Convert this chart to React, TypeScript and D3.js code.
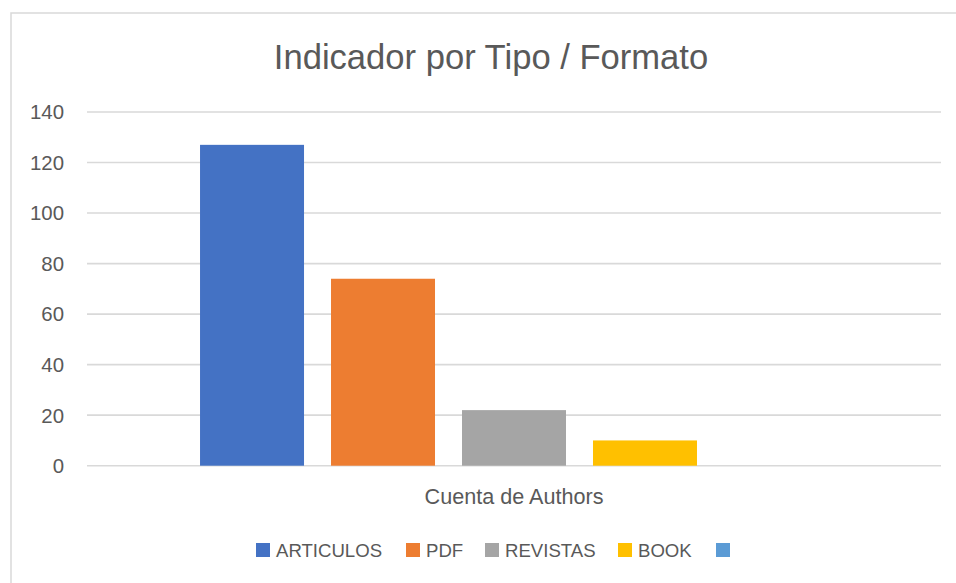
import React from "react";
import * as d3 from "d3";

const title = "Indicador por Tipo / Formato";
const categories = ["Cuenta de Authors"];
const seriesNames = ["ARTICULOS", "PDF", "REVISTAS", "BOOK", ""];
const seriesValues: (number | null)[] = [127, 74, 22, 10, null];
const seriesColors = ["#4472C4", "#ED7D31", "#A5A5A5", "#FFC000", "#5B9BD5"];
const yTicks = [0, 20, 40, 60, 80, 100, 120, 140];

const W = 956;
const H = 583;
const plotLeft = 87;
const plotRight = 941;
const plotTop = 112;
const plotBottom = 465.7;
const FONT = "'Liberation Sans', Arial, sans-serif";
const TEXT = "#595959";

export default function App() {
  const y = d3.scaleLinear().domain([0, 140]).range([plotBottom, plotTop]);
  const x0 = d3
    .scaleBand<string>()
    .domain(categories)
    .range([plotLeft, plotRight])
    .paddingInner(0)
    .paddingOuter(0.18);
  const x1 = d3
    .scaleBand<string>()
    .domain(seriesNames.map((s, i) => String(i)))
    .range([0, x0.bandwidth()])
    .paddingInner(27 / 131)
    .paddingOuter(0);

  // legend layout (left positions of each swatch)
  const legendX = [256, 406, 485, 618, 716];
  const legendY = 543;

  return (
    <svg
      width={W}
      height={H}
      style={{ position: "absolute", left: 0, top: 0, background: "#fff" }}
      fontFamily={FONT}
    >
      <rect x={0} y={0} width={W} height={H} fill="#fff" />
      {/* chart border */}
      <rect
        x={11}
        y={13}
        width={W + 20}
        height={H + 20}
        fill="none"
        stroke="#d9d9d9"
        strokeWidth={1.5}
      />
      <text
        x={491}
        y={68.5}
        textAnchor="middle"
        fontSize={34.6}
        fill={TEXT}
      >
        {title}
      </text>
      {/* gridlines */}
      {yTicks.map((t) => (
        <line
          key={t}
          x1={plotLeft}
          x2={plotRight}
          y1={y(t)}
          y2={y(t)}
          stroke="#d9d9d9"
          strokeWidth={1.6}
        />
      ))}
      {/* y labels */}
      {yTicks.map((t) => (
        <text
          key={"l" + t}
          x={64}
          y={y(t)}
          dy="0.36em"
          textAnchor="end"
          fontSize={20.4}
          fill={TEXT}
        >
          {t}
        </text>
      ))}
      {/* bars */}
      {categories.map((c) => (
        <g key={c} transform={`translate(${x0(c)},0)`}>
          {seriesValues.map((v, i) =>
            v == null ? null : (
              <rect
                key={i}
                x={x1(String(i))}
                y={y(v)}
                width={x1.bandwidth()}
                height={y(0) - y(v)}
                fill={seriesColors[i]}
              />
            )
          )}
        </g>
      ))}
      {/* category label */}
      {categories.map((c) => (
        <text
          key={"c" + c}
          x={(x0(c) ?? 0) + x0.bandwidth() / 2}
          y={504}
          textAnchor="middle"
          fontSize={21.6}
          fill={TEXT}
        >
          {c}
        </text>
      ))}
      {/* legend */}
      {seriesNames.map((s, i) => (
        <g key={"lg" + i}>
          <rect
            x={legendX[i]}
            y={legendY}
            width={14}
            height={14}
            fill={seriesColors[i]}
          />
          <text
            x={legendX[i] + 20}
            y={557}
            fontSize={18.6}
            fill={TEXT}
          >
            {s}
          </text>
        </g>
      ))}
    </svg>
  );
}
